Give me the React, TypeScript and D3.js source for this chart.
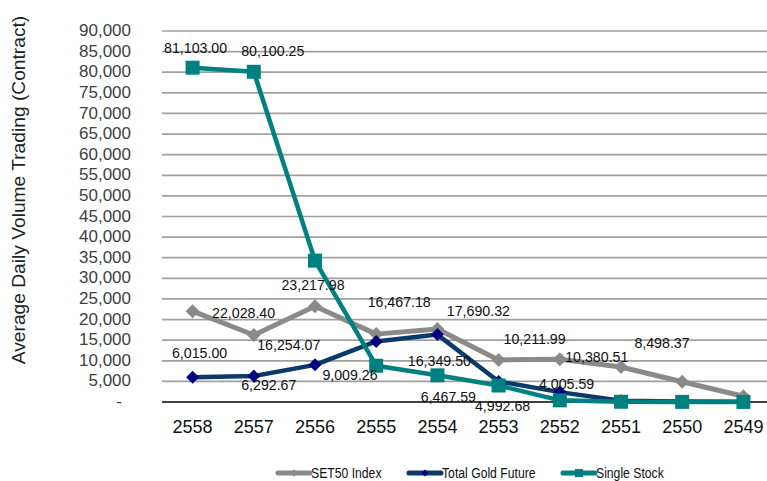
import React from "react";
import * as d3 from "d3";

// Fiscal years (Thai Buddhist calendar), newest first
const years = ["2558", "2557", "2556", "2555", "2554", "2553", "2552", "2551", "2550", "2549"];

// Average daily volume (contracts) per product
const set50Index = [22028.4, 16254.07, 23217.98, 16467.18, 17690.32, 10211.99, 10380.51, 8498.37, 4900, 1400];
const totalGoldFuture = [6015.0, 6292.67, 9009.26, 14700, 16349.5, 4992.68, 2400, 300, 150, 80];
const singleStock = [81103.0, 80100.25, 34300, 8800, 6467.59, 4005.59, 400, 60, 30, 20];

const yTicks = d3.range(0, 90001, 5000);

const seriesNames = ["SET50 Index", "Total Gold Future", "Single Stock"];

// Which points carry a value label, and where the label sits relative to the point
const labelLayout: { s: number; i: number; dx: number; dy: number }[] = [
  { s: 2, i: 0, dx: 3, dy: -15 },
  { s: 2, i: 1, dx: 19, dy: -16 },
  { s: 0, i: 2, dx: -2, dy: -16 },
  { s: 0, i: 0, dx: 51, dy: 7 },
  { s: 0, i: 1, dx: 35, dy: 15 },
  { s: 0, i: 3, dx: 23, dy: -27 },
  { s: 0, i: 4, dx: 41, dy: -13 },
  { s: 1, i: 0, dx: 7, dy: -19 },
  { s: 1, i: 1, dx: 15, dy: 14 },
  { s: 1, i: 2, dx: 35, dy: 15 },
  { s: 1, i: 4, dx: 2, dy: 31 },
  { s: 2, i: 4, dx: 11, dy: 27 },
  { s: 1, i: 5, dx: 4, dy: 30 },
  { s: 0, i: 5, dx: 36, dy: -16 },
  { s: 2, i: 5, dx: 68, dy: 4 },
  { s: 0, i: 6, dx: 37, dy: 3 },
  { s: 0, i: 7, dx: 41, dy: -19 },
];

const W = 767;
const H = 481;
const plotLeft = 162;
const plotRight = 774;
const plotTop = 31;
const plotBottom = 402;

const colors = {
  set50: "#8a8a8a",
  goldLine: "#0b3a6a",
  goldMarker: "#000080",
  stock: "#008080",
};

const font = "'Liberation Sans', Arial, sans-serif";

function Diamond({ x, y, r, fill }: { x: number; y: number; r: number; fill: string }) {
  return <path d={`M${x},${y - r}L${x + r},${y}L${x},${y + r}L${x - r},${y}Z`} fill={fill} />;
}

function LegendItem({ x, y, color, label, marker }: { x: number; y: number; color: string; label: string; marker: React.ReactNode }) {
  return (
    <g transform={`translate(${x},${y})`}>
      <line x1={0} x2={32} y1={0} y2={0} stroke={color} strokeWidth={5} strokeLinecap="round" />
      {marker}
      {/* slightly tall, narrow lettering */}
      <text transform="translate(33,0) scale(1,1.2)" dy="0.35em" fontSize={12.2} fill="#111">
        {label}
      </text>
    </g>
  );
}

export default function App() {
  const x = d3.scaleBand<string>().domain(years).range([plotLeft, plotRight]).padding(0);
  const cx = (yr: string) => (x(yr) as number) + x.bandwidth() / 2;
  const y = d3.scaleLinear().domain([0, 90000]).range([plotBottom, plotTop]);

  const line = d3
    .line<number>()
    .x((_, i) => cx(years[i]))
    .y((v) => y(v));

  const series = [set50Index, totalGoldFuture, singleStock];
  const fmtTick = d3.format(",");
  const fmtLabel = d3.format(",.2f");

  return (
    <svg
      width={W}
      height={H}
      style={{ position: "absolute", left: 0, top: 0, background: "#fff" }}
      fontFamily={font}
    >
      {/* horizontal gridlines */}
      {yTicks
        .filter((t) => t > 0)
        .map((t) => (
          <line key={t} x1={plotLeft} x2={plotRight} y1={y(t)} y2={y(t)} stroke="#a0a0a0" strokeWidth={1.7} />
        ))}
      {/* category axis */}
      <line x1={plotLeft} x2={plotRight} y1={y(0)} y2={y(0)} stroke="#000" strokeWidth={1.7} />

      {/* value axis labels */}
      {yTicks.map((t) =>
        t === 0 ? (
          <text key={t} x={122} y={y(t)} dy="0.3em" textAnchor="end" fontSize={17} fill="#404040">
            -
          </text>
        ) : (
          <text key={t} x={131} y={y(t)} dy="0.3em" textAnchor="end" fontSize={17} fill="#404040">
            {fmtTick(t)}
          </text>
        )
      )}

      {/* category labels */}
      {years.map((yr) => (
        <text key={yr} x={cx(yr)} y={y(0) + 31} textAnchor="middle" fontSize={18} fill="#111">
          {yr}
        </text>
      ))}

      {/* axis title */}
      <text transform="translate(25,190) rotate(-90)" textAnchor="middle" fontSize={19.2} fill="#222">
        Average Daily Volume Trading (Contract)
      </text>

      {/* SET50 Index */}
      <path d={line(set50Index) as string} fill="none" stroke={colors.set50} strokeWidth={5} strokeLinejoin="round" />
      {set50Index.map((v, i) => (
        <Diamond key={i} x={cx(years[i])} y={y(v)} r={7} fill={colors.set50} />
      ))}

      {/* Total Gold Future */}
      <path d={line(totalGoldFuture) as string} fill="none" stroke={colors.goldLine} strokeWidth={4.5} strokeLinejoin="round" />
      {totalGoldFuture.map((v, i) => (
        <Diamond key={i} x={cx(years[i])} y={y(v)} r={6.5} fill={colors.goldMarker} />
      ))}

      {/* Single Stock */}
      <path d={line(singleStock) as string} fill="none" stroke={colors.stock} strokeWidth={4.5} strokeLinejoin="round" />
      {singleStock.map((v, i) => (
        <rect key={i} x={cx(years[i]) - 7} y={y(v) - 7} width={14} height={14} fill={colors.stock} />
      ))}

      {/* value labels */}
      {labelLayout.map(({ s, i, dx, dy }) => {
        const v = series[s][i];
        return (
          <text key={`${s}-${i}`} x={cx(years[i]) + dx} y={y(v) + dy} textAnchor="middle" fontSize={14.2} fill="#111">
            {fmtLabel(v)}
          </text>
        );
      })}

      {/* legend */}
      <LegendItem
        x={278}
        y={473}
        color={colors.set50}
        label={seriesNames[0]}
        marker={<Diamond x={16} y={0} r={3.5} fill={colors.set50} />}
      />
      <LegendItem
        x={409}
        y={473}
        color={colors.goldLine}
        label={seriesNames[1]}
        marker={<Diamond x={16} y={0} r={3.5} fill={colors.goldMarker} />}
      />
      <LegendItem
        x={563}
        y={473}
        color={colors.stock}
        label={seriesNames[2]}
        marker={<rect x={12} y={-4} width={8} height={8} fill={colors.stock} />}
      />
    </svg>
  );
}
